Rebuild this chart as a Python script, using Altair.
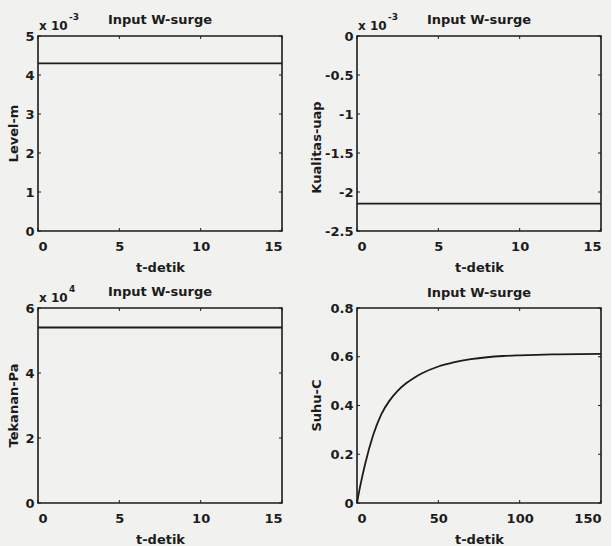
import altair as alt
import pandas as pd

# ---- data ----
t_flat = [0, 15]
level_m = [0.0043, 0.0043]
kualitas_uap = [-0.00215, -0.00215]
tekanan_pa = [54000, 54000]

t_suhu = [0, 2, 5, 10, 15, 20, 25, 30, 35, 40, 50, 60, 70, 80, 90, 100, 120, 150]
suhu_c = [0, 0.07, 0.16, 0.28, 0.365, 0.42, 0.46, 0.49, 0.513, 0.532, 0.56, 0.578,
          0.59, 0.598, 0.603, 0.606, 0.61, 0.612]

x_ticks_15 = [0, 5, 10, 15]
x_ticks_150 = [0, 50, 100, 150]
y_ticks_level = [0, 0.001, 0.002, 0.003, 0.004, 0.005]
y_ticks_kual = [0, -0.0005, -0.001, -0.0015, -0.002, -0.0025]
y_ticks_tek = [0, 20000, 40000, 60000]
y_ticks_suhu = [0, 0.2, 0.4, 0.6, 0.8]

title_text = "Input W-surge"
x_title = "t-detik"

W, H = 244, 195
FONT = "DejaVu Sans"
INK = "#1c1c1c"
BG = "#f1f1ef"
TICK = 3


def panel(df, xdom, ydom, xticks, yticks, ytitle, ytitle_x, ytitle_y,
          ylabel_expr=None, exp_main=None, exp_sup=None, xtitle_x=122, title_y=-12):
    xs = alt.Scale(domain=xdom, nice=False, zero=False)
    ys = alt.Scale(domain=ydom, nice=False, zero=False)
    yaxis_kw = dict(values=yticks, title=ytitle, titleX=ytitle_x, titleY=ytitle_y,
                    titleAngle=-90, titleAlign="center", titleBaseline="middle",
                    labelOverlap=False)
    if ylabel_expr:
        yaxis_kw["labelExpr"] = ylabel_expr
    xaxis = alt.Axis(values=xticks, title=x_title, titleX=xtitle_x, titleY=36,
                     titleAlign="center", titleBaseline="middle", labelOverlap=False)
    yaxis = alt.Axis(**yaxis_kw)
    line = alt.Chart(df).mark_line(color=INK, strokeWidth=1.8, interpolate="monotone").encode(
        x=alt.X("t:Q", scale=xs, axis=xaxis),
        y=alt.Y("v:Q", scale=ys, axis=yaxis),
    )
    xt = pd.DataFrame({"tv": xticks})
    yt = pd.DataFrame({"yv": yticks})
    tick_layers = [
        alt.Chart(xt).mark_rule(color=INK, strokeWidth=1).encode(
            x=alt.X("tv:Q", scale=xs, axis=xaxis), y=alt.value(H), y2=alt.value(H - TICK)),
        alt.Chart(xt).mark_rule(color=INK, strokeWidth=1).encode(
            x=alt.X("tv:Q", scale=xs, axis=xaxis), y=alt.value(0), y2=alt.value(TICK)),
        alt.Chart(yt).mark_rule(color=INK, strokeWidth=1).encode(
            y=alt.Y("yv:Q", scale=ys, axis=yaxis), x=alt.value(0), x2=alt.value(TICK)),
        alt.Chart(yt).mark_rule(color=INK, strokeWidth=1).encode(
            y=alt.Y("yv:Q", scale=ys, axis=yaxis), x=alt.value(W - TICK), x2=alt.value(W)),
    ]
    layers = [line] + tick_layers
    td = pd.DataFrame({"s": [title_text]})
    layers.append(alt.Chart(td).mark_text(font=FONT, fontSize=13, fontWeight="bold",
                                          color=INK, align="center", baseline="alphabetic").encode(
        x=alt.value(W / 2), y=alt.value(title_y), text="s:N"))
    if exp_main:
        d = pd.DataFrame({"s": [exp_main]})
        layers.append(alt.Chart(d).mark_text(font=FONT, fontSize=12, fontWeight="bold",
                                             color=INK, align="left", baseline="bottom").encode(
            x=alt.value(1), y=alt.value(-3), text="s:N"))
        d2 = pd.DataFrame({"s": [exp_sup]})
        layers.append(alt.Chart(d2).mark_text(font=FONT, fontSize=9, fontWeight="bold",
                                              color=INK, align="left", baseline="middle").encode(
            x=alt.value(31), y=alt.value(-19), text="s:N"))
    return alt.layer(*layers).properties(width=W, height=H)


df1 = pd.DataFrame({"t": t_flat, "v": level_m})
df2 = pd.DataFrame({"t": t_flat, "v": kualitas_uap})
df3 = pd.DataFrame({"t": t_flat, "v": tekanan_pa})
df4 = pd.DataFrame({"t": t_suhu, "v": suhu_c})

p1 = panel(df1, [0, 15], [0, 0.005], x_ticks_15, y_ticks_level, "Level-m", -25, 97,
           ylabel_expr="format(datum.value*1000, '.2~f')", exp_main="x 10", exp_sup="-3")
p2 = panel(df2, [0, 15], [-0.0025, 0], x_ticks_15, y_ticks_kual, "Kualitas-uap", -41, 111,
           ylabel_expr="replace(format(datum.value*1000, '.2~f'), '\u2212', '-')",
           exp_main="x 10", exp_sup="-3")
p3 = panel(df3, [0, 15], [0, 60000], x_ticks_15, y_ticks_tek, "Tekanan-Pa", -25, 97,
           ylabel_expr="format(datum.value/10000, '.2~f')", exp_main="x 10", exp_sup="4")
p4 = panel(df4, [0, 150], [0, 0.8], x_ticks_150, y_ticks_suhu, "Suhu-C", -41, 97,
           ylabel_expr="format(datum.value, '.1~f')", title_y=-11)

chart = alt.concat(p1, p2, p3, p4, columns=2, spacing={"row": 77, "column": 75},
                   bounds="flush").configure_view(
    stroke=INK, strokeWidth=1.6, fill=BG
).configure_axis(
    domain=False, ticks=False, grid=False, labelOverlap=False,
    labelFont=FONT, labelFontSize=13, labelFontWeight="bold", labelColor=INK,
    titleFont=FONT, titleFontSize=13, titleFontWeight="bold", titleColor=INK,
).configure_axisX(labelPadding=9).configure_axisY(labelPadding=4).properties(
    background=BG,
    padding={"left": 6, "top": 12, "right": 5, "bottom": 0},
)

chart.save("out.html", embed_options={"renderer": "svg", "actions": False})
